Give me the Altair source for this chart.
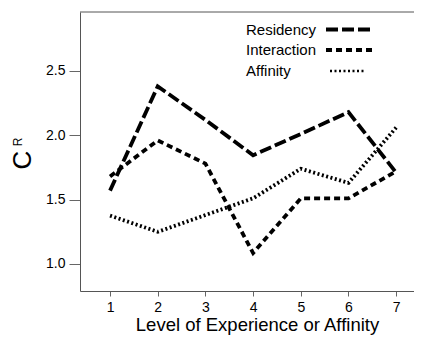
import altair as alt
import pandas as pd

levels = [1, 2, 3, 4, 5, 6, 7]
residency = [1.57, 2.38, 2.12, 1.845, 2.01, 2.18, 1.71]
interaction = [1.68, 1.96, 1.78, 1.085, 1.51, 1.51, 1.72]
affinity = [1.376, 1.25, 1.38, 1.51, 1.74, 1.63, 2.06]
series_names = ["Residency", "Interaction", "Affinity"]
y_ticks = [1.0, 1.5, 2.0, 2.5]

FONT = "Liberation Sans"
W, H = 334, 279

rows = []
for name, vals in zip(series_names, [residency, interaction, affinity]):
    for lv, v in zip(levels, vals):
        rows.append({"level": lv, "value": v, "series": name})
df = pd.DataFrame(rows)

dash_range = [[12, 4], [6, 4], [2, 2.5]]
width_range = [3.8, 3.8, 2.6]

x_scale = alt.Scale(domain=[0.37, 7.374], nice=False, zero=False)
y_scale = alt.Scale(domain=[0.79, 2.958], nice=False, zero=False)

lines = alt.Chart(df).mark_line(color="black", strokeCap="butt").encode(
    x=alt.X("level:Q", scale=x_scale,
            axis=alt.Axis(values=levels, format="d", tickSize=5, labelPadding=4,
                          labelFontSize=14, title="Level of Experience or Affinity",
                          titleFontSize=18.5, titleFontWeight="normal",
                          titleX=177, titleY=39, titleBaseline="alphabetic", grid=False)),
    y=alt.Y("value:Q", scale=y_scale,
            axis=alt.Axis(values=y_ticks, format=".1f", tickSize=11, labelPadding=4,
                          labelFontSize=14, title=None, grid=False)),
    strokeDash=alt.StrokeDash("series:N", scale=alt.Scale(domain=series_names, range=dash_range), legend=None),
    strokeWidth=alt.StrokeWidth("series:N", scale=alt.Scale(domain=series_names, range=width_range), legend=None),
    detail="series:N",
)

top_border = alt.Chart(pd.DataFrame({"a": [0]})).mark_rule(color="#555", strokeWidth=1).encode(
    x=alt.value(0), x2=alt.value(W + 2), y=alt.value(0)
)

layers = [lines, top_border]

leg_y = [17.5, 38, 59]
leg_x0 = [246, 246, 250]
leg_x1 = [294, 294, 286]
for i, name in enumerate(series_names):
    d = pd.DataFrame({"label": [name]})
    layers.append(alt.Chart(d).mark_text(align="left", baseline="middle", font=FONT,
                                         fontSize=15, color="black").encode(
        text="label:N", x=alt.value(166), y=alt.value(leg_y[i])))
    layers.append(alt.Chart(d).mark_rule(color="black", strokeDash=dash_range[i],
                                         strokeWidth=width_range[i], strokeCap="butt").encode(
        x=alt.value(leg_x0[i]), x2=alt.value(leg_x1[i]), y=alt.value(leg_y[i])))

title_df = pd.DataFrame({"t": ["C"], "s": ["R"]})
layers.append(alt.Chart(title_df).mark_text(angle=270, font=FONT, fontSize=26, color="black",
                                            align="center", baseline="middle").encode(
    text="t:N", x=alt.value(-57), y=alt.value(148)))
layers.append(alt.Chart(title_df).mark_text(angle=270, font=FONT, fontSize=12, color="black",
                                            align="center", baseline="middle").encode(
    text="s:N", x=alt.value(-62), y=alt.value(130)))

chart = alt.layer(*layers).properties(
    width=W, height=H,
    autosize=alt.AutoSizeParams(type="none"),
    padding={"left": 72, "top": 4, "right": 0, "bottom": 44},
    background="white",
).configure_view(stroke=None).configure_axis(
    labelFont=FONT, titleFont=FONT, labelColor="black", titleColor="black",
    domainColor="#555", tickColor="#666", domainWidth=1, tickWidth=1,
)

chart.save("out.html", embed_options={"renderer": "svg", "actions": False})
